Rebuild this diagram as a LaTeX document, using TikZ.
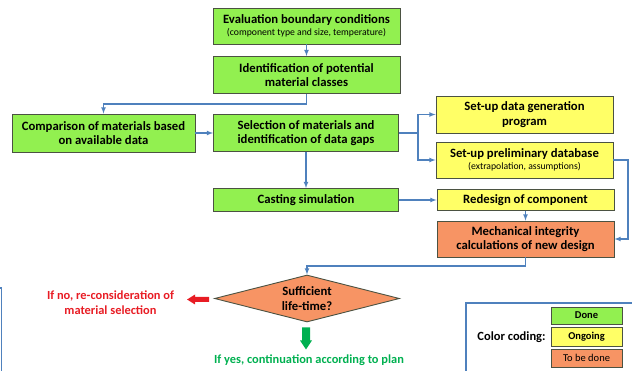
\documentclass[tikz,border=0pt]{standalone}
\usepackage{fontspec}
\setmainfont{Carlito}
\usetikzlibrary{calc}
\usetikzlibrary{arrows}
\usetikzlibrary{positioning}
\usetikzlibrary{shapes.geometric}
\definecolor{done-green}{RGB}{146,240,80}
\definecolor{ongoing-yellow}{RGB}{255,255,102}
\definecolor{todo-orange}{RGB}{247,148,100}
\definecolor{flow-blue}{RGB}{79,129,189}
\definecolor{box-line}{RGB}{75,82,66}
\definecolor{no-red}{RGB}{232,28,36}
\definecolor{yes-green}{RGB}{0,176,80}

\tikzset{
  stage/.style={draw=box-line, line width=0.9pt, align=center, inner sep=1pt,
    font=\bfseries\fontsize{12.7}{14.5}\selectfont, minimum width=187, minimum height=36},
  done/.style={stage, fill=done-green},
  ongoing/.style={stage, fill=ongoing-yellow, minimum width=177},
  todo/.style={stage, fill=todo-orange, minimum width=177},
  flow/.style={draw=flow-blue, line width=1.1pt, ->, >=latex},
  key/.style={draw=box-line, line width=0.9pt, minimum width=71, inner sep=0pt,
    font=\bfseries\fontsize{10.5}{12}\selectfont},
  legend-line/.style={draw=flow-blue, line width=1.4pt},
}
\newcommand{\remark}[1]{{\mdseries\fontsize{9.7}{11}\selectfont #1}}

\begin{document}
\begin{tikzpicture}[x=1pt, y=-1pt]
\useasboundingbox (0,0) rectangle (632,371);

% ---------------------------------------------------
% Stages (done / ongoing / to be done)
\node[done] (eval) at (306.5, 26)
  {Evaluation boundary conditions\\[-2pt]\remark{(component type and size, temperature)}};
\node[done, minimum height=37] (ident) at (306.5, 75)
  {Identification of potential\\material classes};
\node[done, minimum width=183, minimum height=38] (compare) at (103.5, 133)
  {Comparison of materials based\\on available data};
\node[done, minimum width=185, minimum height=37] (select) at (306, 133)
  {Selection of materials and\\identification of data gaps};
\node[done, minimum width=185, minimum height=23] (casting) at (306, 200)
  {Casting simulation};

\node[ongoing, minimum height=37] (datagen) at (524.5, 114.5)
  {Set-up data generation\\program};
\node[ongoing] (prelim) at (524.5, 160)
  {Set-up preliminary database\\[-2pt]\remark{(extrapolation, assumptions)}};
\node[ongoing, minimum height=21] (redesign) at (525.5, 200)
  {Redesign of component};
\node[todo] (mech) at (525.5, 239)
  {Mechanical integrity\\calculations of new design};

% Decision
\node[diamond, aspect=3.9, draw=box-line, line width=0.9pt, fill=todo-orange,
      minimum width=185, minimum height=47, inner sep=0pt, align=center,
      font=\bfseries\fontsize{12.7}{14.5}\selectfont] (check) at (307, 298.5)
  {Sufficient\\life-time?};

% ---------------------------------------------------
% Connectors
\coordinate[] (bend) at (306.5, 104);
\coordinate[] (split) at (418, 133);
\coordinate[] (feed) at (628, 239);
\coordinate[] (back) at (307, 266);

\path[] (eval) edge[flow] (ident);
\draw[flow] (ident.south) -- (bend) -| (compare.north);
\path[] (compare) edge[flow] (select);
\draw[flow] (select.east) -- (split) |- (datagen.west);
\draw[flow] (split) |- (prelim.west);
\path[] (select) edge[flow] (casting);
\path[] (casting) edge[flow] (redesign);
\path[] (redesign) edge[flow] (mech);
\draw[flow] (prelim.east) -| (feed) -- (mech.east);
\draw[flow] (mech.south) |- (back) -- (check.north);

% ---------------------------------------------------
% Outcomes (block arrows)
\coordinate[] (notip) at ($ (check.west) + (-27, 1) $);
\coordinate[] (yestip) at ($ (check.south) + (-1, 27) $);
\fill[no-red] (notip) -- ++(8,-5) -- ++(0,2.5) -- ++(14,0) -- ++(0,5)
  -- ++(-14,0) -- ++(0,2.5) -- cycle;
\fill[yes-green] (yestip) -- ++(-6,-9) -- ++(2,0) -- ++(0,-13) -- ++(8,0)
  -- ++(0,13) -- ++(2,0) -- cycle;
\node[align=center, text=no-red, font=\bfseries\fontsize{12.4}{15}\selectfont]
  (notext) at (110.5, 302.5) {If no, re-consideration of\\material selection};
\node[text=yes-green, font=\bfseries\fontsize{12.4}{15}\selectfont]
  (yestext) at (309, 360) {If yes, continuation according to plan};

% ---------------------------------------------------
% Legend
\draw[legend-line] (466, 303) rectangle (640, 380);
\draw[legend-line] (-5, 288) -- (1.5, 288) -- (1.5, 380);
\node[font=\bfseries\fontsize{12.5}{14}\selectfont] (coding) at (511.5, 337) {Color coding:};
\node[key, fill=done-green, minimum height=17] (keydone) at (586.5, 315.5) {Done};
\node[key, fill=ongoing-yellow, minimum height=19] (keyongoing) at (586.5, 336.5) {Ongoing};
\node[key, fill=todo-orange, minimum height=18, font=\mdseries\fontsize{10.5}{12}\selectfont]
  (keytodo) at (586.5, 358) {To be done};
\end{tikzpicture}
\end{document}
